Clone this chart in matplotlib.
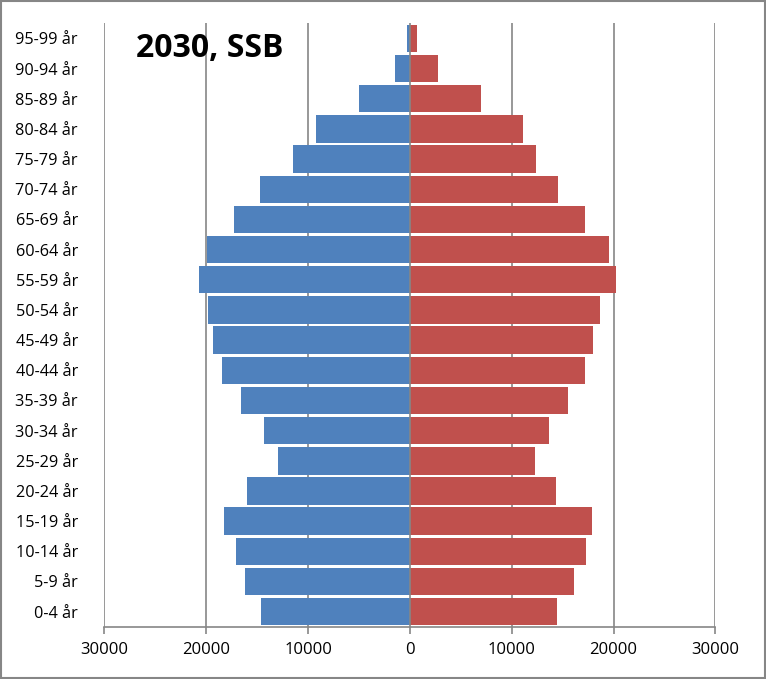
import numpy as np
import matplotlib.pyplot as plt
from matplotlib.patches import Rectangle

plt.rcParams['font.family'] = ['Open Sans', 'DejaVu Sans']

ages = ['0-4 år', '5-9 år', '10-14 år', '15-19 år', '20-24 år', '25-29 år',
        '30-34 år', '35-39 år', '40-44 år', '45-49 år', '50-54 år', '55-59 år',
        '60-64 år', '65-69 år', '70-74 år', '75-79 år', '80-84 år', '85-89 år',
        '90-94 år', '95-99 år']
men = [14640, 16210, 17090, 18270, 16010, 12970, 14340, 16600, 18460, 19340,
       19830, 20720, 19960, 17290, 14740, 11500, 9250, 5030, 1500, 320]
women = [14440, 16110, 17290, 17870, 14340, 12290, 13660, 15520, 17190, 17970,
         18660, 20230, 19540, 17190, 14540, 12380, 11110, 6990, 2780, 720]
xticks = [-30000, -20000, -10000, 0, 10000, 20000, 30000]
title = '2030, SSB'

blue = '#4F81BD'
red = '#C0504D'
grey = '#868686'

fig = plt.figure(figsize=(7.66, 6.79), dpi=100)
ax = fig.add_axes([0.1362, 0.0770, 0.7977, 0.8887])

y = np.arange(len(ages))
ax.barh(y, -np.array(men), height=0.91, color=blue, zorder=2)
ax.barh(y, women, height=0.91, color=red, zorder=2)

ax.set_xlim(-30000, 30000)
ax.set_ylim(-0.5, len(ages) - 0.5)
ax.set_xticks(xticks)
ax.set_xticklabels([str(abs(v)) for v in xticks], fontsize=12)
ax.set_yticks(y)
ax.set_yticklabels(ages, fontsize=11.7)

for v in xticks:
    if v == 0:
        ax.axvline(v, color=grey, lw=1.2, zorder=3)
    else:
        ax.axvline(v, color=grey, lw=1.2, zorder=1)

for s in ['top', 'right', 'left']:
    ax.spines[s].set_visible(False)
ax.spines['bottom'].set_color(grey)
ax.spines['bottom'].set_linewidth(1.2)
ax.tick_params(axis='x', length=5, color=grey, width=1.2, pad=6)
ax.tick_params(axis='y', length=0, pad=19)

ax.text(0.052, 0.985, title, transform=ax.transAxes, fontsize=23,
        fontweight='bold', va='top', ha='left')

fig.patches.append(Rectangle((0.001, 0.001), 0.998, 0.997, transform=fig.transFigure,
                             fill=False, edgecolor=grey, lw=1.5))

fig.savefig('out.png', dpi=100)
